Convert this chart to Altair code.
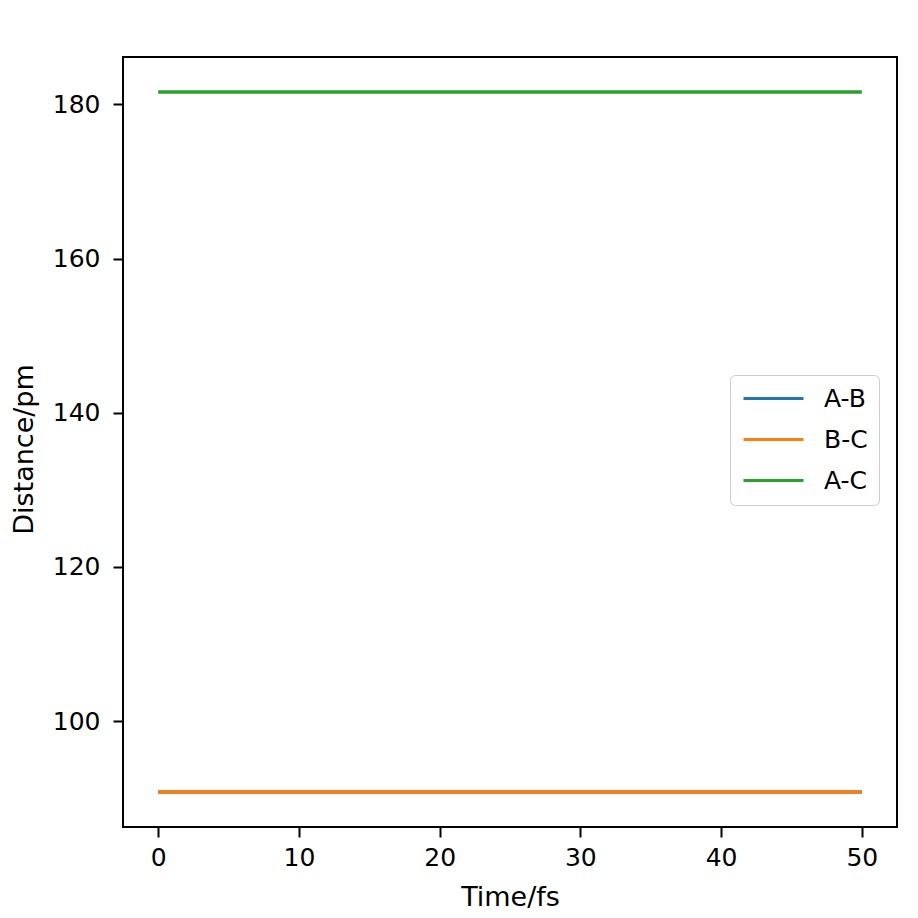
import altair as alt
import pandas as pd

time_fs = [0, 10, 20, 30, 40, 50]
ab_pm = [90.8, 90.8, 90.8, 90.8, 90.8, 90.8]
bc_pm = [90.8, 90.8, 90.8, 90.8, 90.8, 90.8]
ac_pm = [181.6, 181.6, 181.6, 181.6, 181.6, 181.6]

series_names = ["A-B", "B-C", "A-C"]
series_colors = ["#1f77b4", "#ff7f0e", "#2ca02c"]
x_ticks = [0, 10, 20, 30, 40, 50]
y_ticks = [100, 120, 140, 160, 180]

rows = []
for name, vals in zip(series_names, [ab_pm, bc_pm, ac_pm]):
    for t, v in zip(time_fs, vals):
        rows.append({"time": t, "dist": v, "bond": name, "order": series_names.index(name)})
df = pd.DataFrame(rows)

FONT = "DejaVu Sans"

chart = alt.Chart(df).mark_line(strokeWidth=3.5).encode(
    x=alt.X("time:Q", scale=alt.Scale(domain=[-2.5, 52.5], nice=False, zero=False),
            axis=alt.Axis(title="Time/fs", values=x_ticks, format="d", labelPadding=8, titlePadding=14)),
    y=alt.Y("dist:Q", scale=alt.Scale(domain=[86.26, 186.14], nice=False, zero=False),
            axis=alt.Axis(title="Distance/pm", values=y_ticks, format="d", labelPadding=13,
                          titlePadding=14, titleY=392)),
    color=alt.Color("bond:N", sort=series_names,
                    scale=alt.Scale(domain=series_names, range=series_colors),
                    legend=alt.Legend(orient="none", legendX=607, legendY=318, title=None,
                                      symbolType="M-3,0H3", symbolSize=400, symbolStrokeWidth=3,
                                      symbolOffset=20,
                                      labelFontSize=25, labelFont=FONT, labelColor="black",
                                      fillColor="white", strokeColor="#cccccc", cornerRadius=5,
                                      padding=11, rowPadding=15, labelOffset=38)),
    detail="bond:N",
    order="order:Q",
).properties(
    width=774, height=770,
    autosize=alt.AutoSizeParams(type="none"),
    padding={"left": 115, "top": 49, "right": 10, "bottom": 83},
).configure_view(
    stroke="black", strokeWidth=2
).configure_axis(
    labelFont=FONT, titleFont=FONT, labelFontSize=25, titleFontSize=27,
    labelColor="black", titleColor="black", titleFontWeight="normal",
    domain=False, grid=False, tickColor="black", tickSize=10, tickWidth=2
)

chart.save("out.html", embed_options={"renderer": "svg", "actions": False})
